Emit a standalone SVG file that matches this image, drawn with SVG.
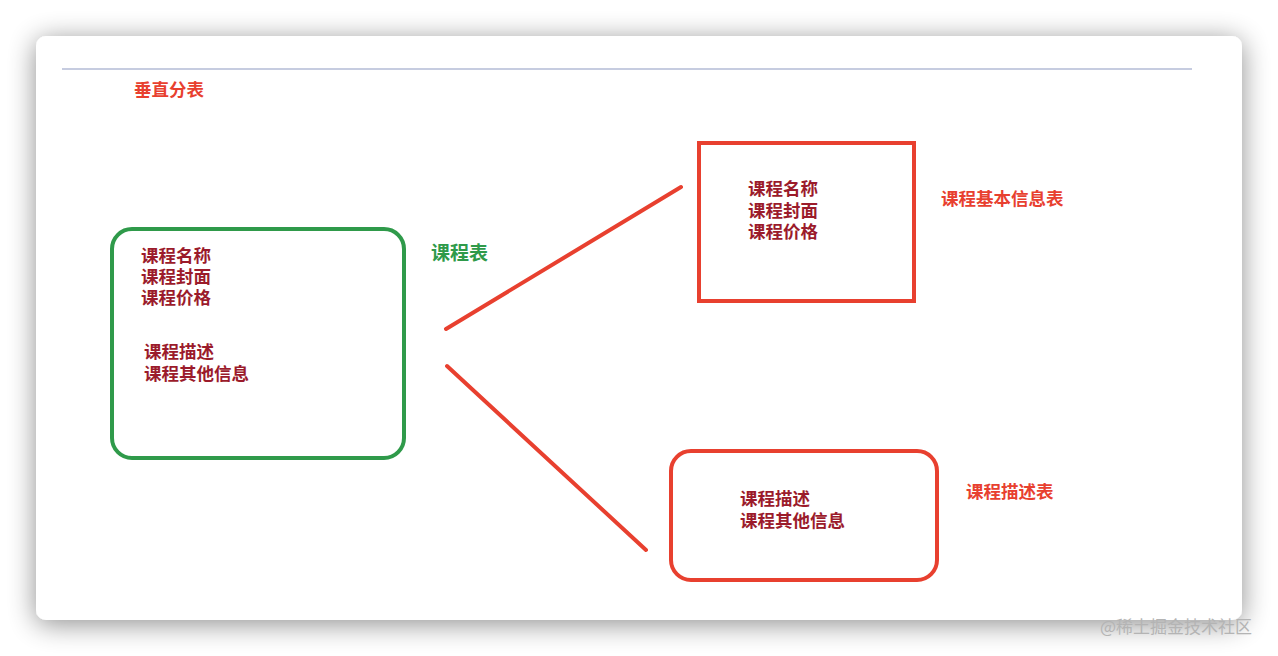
<svg xmlns="http://www.w3.org/2000/svg" width="1278" height="656" viewBox="0 0 1278 656">
<defs>
<filter id="sh" x="-10%" y="-10%" width="120%" height="130%">
<feGaussianBlur in="SourceAlpha" stdDeviation="14"/>
<feOffset dx="0" dy="4" result="b"/>
<feComponentTransfer><feFuncA type="linear" slope="0.45"/></feComponentTransfer>
<feMerge><feMergeNode/><feMergeNode in="SourceGraphic"/></feMerge>
</filter>
<style>
text{font-family:"Noto Sans CJK SC","Noto Sans",sans-serif;font-weight:700}
.item{fill:#9b1b2b;font-size:17.5px}
.red{fill:#e8402f;font-size:17.5px}
.grn{fill:#2f9a4a;font-size:19px}
.rbox{fill:none;stroke:#e8402f;stroke-width:4}
.conn{stroke:#e8402f;stroke-width:4;stroke-linecap:round}
</style>
</defs>
<rect x="0" y="0" width="1278" height="656" fill="#ffffff"/>
<rect x="36" y="36" width="1206" height="584" rx="10" fill="#ffffff" filter="url(#sh)"/>
<line x1="62" y1="69" x2="1192" y2="69" stroke="#c6cce0" stroke-width="2"/>
<text class="red" x="134" y="96" font-size="16">垂直分表</text>

<g id="connectors">
<line class="conn" x1="446" y1="329" x2="681" y2="187"/>
<line class="conn" x1="447" y1="366" x2="646" y2="550"/>
</g>

<g id="course-table">
<rect x="112" y="229" width="292" height="229" rx="20" fill="none" stroke="#2f9a4a" stroke-width="4"/>
<text class="item"><tspan x="141" y="262">课程名称</tspan><tspan x="141" y="283">课程封面</tspan><tspan x="141" y="304">课程价格</tspan></text>
<text class="item"><tspan x="144" y="358">课程描述</tspan><tspan x="144" y="380">课程其他信息</tspan></text>
<text class="grn" x="431" y="260">课程表</text>
</g>

<g id="course-basic">
<rect class="rbox" x="699" y="143" width="215" height="158"/>
<text class="item"><tspan x="748" y="195">课程名称</tspan><tspan x="748" y="217">课程封面</tspan><tspan x="748" y="238">课程价格</tspan></text>
<text class="red" x="941" y="205">课程基本信息表</text>
</g>

<g id="course-desc">
<rect class="rbox" x="671" y="451" width="266" height="129" rx="20"/>
<text class="item"><tspan x="740" y="505">课程描述</tspan><tspan x="740" y="527">课程其他信息</tspan></text>
<text class="red" x="966" y="498">课程描述表</text>
</g>

<text x="1100" y="633" style="font-weight:400;font-size:17px;fill:#b4b4b4">@稀土掘金技术社区</text>
</svg>
